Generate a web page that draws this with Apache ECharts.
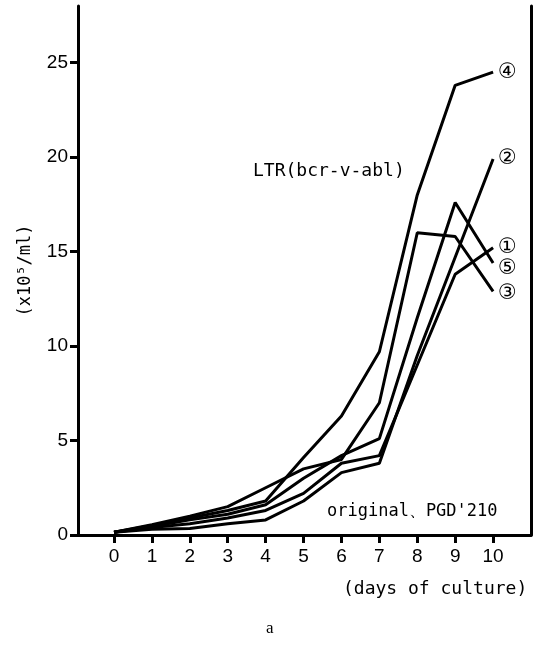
<!DOCTYPE html>
<html>
<head>
<meta charset="utf-8">
<script src="https://cdn.jsdelivr.net/npm/echarts@6/dist/echarts.min.js"></script>
<style>
  html, body { margin: 0; padding: 0; background: #fff; }
  #chart { width: 539px; height: 656px; }
</style>
</head>
<body>
<div id="chart"></div>
<script>
var days = [0, 1, 2, 3, 4, 5, 6, 7, 8, 9, 10];
var yTicks = [0, 5, 10, 15, 20, 25];

// cell counts (x10^5/ml)
var line1 = [0.15, 0.4, 0.6, 0.9, 1.3, 2.2, 3.8, 4.2, 9.0, 13.8, 15.2];
var line2 = [0.15, 0.3, 0.35, 0.6, 0.8, 1.8, 3.3, 3.8, 9.5, 14.7, 19.9];
var line3 = [0.15, 0.55, 1.0, 1.5, 2.5, 3.5, 4.0, 7.0, 16.0, 15.8, 12.9];
var line4 = [0.15, 0.5, 0.9, 1.3, 1.8, 4.1, 6.3, 9.7, 18.0, 23.8, 24.5];
var line5 = [0.15, 0.45, 0.8, 1.1, 1.6, 3.0, 4.2, 5.1, 11.5, 17.6, 14.4];

var seriesList = [
  { tag: '①', values: line1, dy: 0 },
  { tag: '②', values: line2, dy: 0 },
  { tag: '③', values: line3, dy: 2 },
  { tag: '④', values: line4, dy: 0 },
  { tag: '⑤', values: line5, dy: 6 }
];

var mono = '"DejaVu Sans Mono", monospace';

var myChart = echarts.init(document.getElementById('chart'));
myChart.setOption({
  animation: false,
  backgroundColor: '#fff',
  grid: { left: 78, right: 8, top: 6, bottom: 121 },
  xAxis: {
    type: 'value',
    min: -0.95,
    max: 11.0,
    splitLine: { show: false },
    axisLine: { lineStyle: { color: '#000', width: 3 } },
    axisTick: { customValues: days, length: 8, lineStyle: { color: '#000', width: 3 } },
    axisLabel: {
      customValues: days,
      color: '#000',
      fontSize: 19,
      fontFamily: 'Liberation Sans, Arial',
      margin: 12
    }
  },
  yAxis: [
    {
      type: 'value',
      min: 0,
      max: 28,
      name: '(x10⁵/ml)',
      nameLocation: 'middle',
      nameGap: 44,
      nameRotate: 90,
      nameTextStyle: { color: '#000', fontSize: 17, fontFamily: mono },
      splitLine: { show: false },
      axisLine: { onZero: false, lineStyle: { color: '#000', width: 3 } },
      axisTick: { customValues: yTicks, length: 8, lineStyle: { color: '#000', width: 3 } },
      axisLabel: {
        customValues: yTicks,
        color: '#000',
        fontSize: 19,
        fontFamily: 'Liberation Sans, Arial',
        margin: 10
      }
    },
    {
      type: 'value',
      min: 0,
      max: 28,
      position: 'right',
      splitLine: { show: false },
      axisLine: { show: true, onZero: false, lineStyle: { color: '#000', width: 3 } },
      axisTick: { show: false },
      axisLabel: { show: false }
    }
  ],
  series: seriesList.map(function (s) {
    return {
      type: 'line',
      yAxisIndex: 0,
      data: days.map(function (d, i) { return [d, s.values[i]]; }),
      showSymbol: false,
      lineStyle: { color: '#000', width: 3 },
      endLabel: {
        show: true,
        formatter: s.tag,
        color: '#000',
        fontSize: 21,
        fontFamily: '"DejaVu Sans"',
        distance: 5,
        offset: [0, s.dy]
      }
    };
  }),
  graphic: [
    {
      type: 'text', left: 253, top: 162,
      style: { text: 'LTR(bcr-v-abl)', fill: '#000', font: '18px ' + mono }
    },
    {
      type: 'text', left: 327, top: 503,
      style: { text: 'original、PGD\'210', fill: '#000', font: '17px ' + mono }
    },
    {
      type: 'text', left: 343, top: 580,
      style: { text: '(days of culture)', fill: '#000', font: '18px ' + mono }
    },
    {
      type: 'text', left: 266, top: 620,
      style: { text: 'a', fill: '#000', font: '17px "Liberation Serif", serif' }
    }
  ]
});
window.addEventListener('resize', function () {
  myChart.resize();
});
</script>
</body>
</html>
